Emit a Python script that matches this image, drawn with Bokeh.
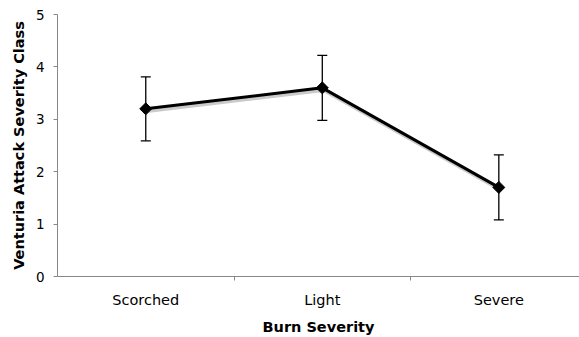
import math
from bokeh.plotting import figure
from bokeh.models import ColumnDataSource, FixedTicker, Range1d, Whisker, TeeHead
from bokeh.embed import file_html
from bokeh.resources import INLINE

categories = ["Scorched", "Light", "Severe"]
means = [3.2, 3.6, 1.7]
errors = [0.61, 0.62, 0.62]
y_ticks = [0, 1, 2, 3, 4, 5]

xpos = [i + 0.5 for i in range(len(categories))]
src = ColumnDataSource(dict(
    x=xpos, y=means,
    upper=[m + e for m, e in zip(means, errors)],
    lower=[m - e for m, e in zip(means, errors)],
    xs=[x + 0.008 for x in xpos], ys=[m - 0.04 for m in means],
))

FONT = "DejaVu Sans"
p = figure(width=579, height=337, output_backend="svg", toolbar_location=None,
           x_range=Range1d(0, 2.957), y_range=Range1d(0, 5),
           min_border_left=57, min_border_top=14, min_border_right=0, min_border_bottom=61)
p.outline_line_color = None
p.background_fill_color = "white"
p.border_fill_color = "white"

# grid: only top line
p.xgrid.visible = False
p.ygrid.ticker = FixedTicker(ticks=[5])
p.ygrid.grid_line_color = "#a6a6a6"
p.ygrid.grid_line_width = 1

# x axis
xa = p.xaxis[0]
xa.ticker = FixedTicker(ticks=xpos, minor_ticks=[1, 2])
xa.major_label_overrides = {x: c for x, c in zip(xpos, categories)}
xa.major_tick_out = 0
xa.major_tick_in = 0
xa.minor_tick_out = 4
xa.minor_tick_in = 0
xa.minor_tick_line_color = "#888888"
xa.axis_line_color = "#888888"
xa.major_label_text_font = FONT
xa.major_label_text_font_size = "14.5px"
xa.major_label_text_color = "black"
xa.major_label_standoff = 11
xa.axis_label = "Burn Severity"
xa.axis_label_text_font = FONT
xa.axis_label_text_font_style = "bold"
xa.axis_label_text_font_size = "14.5px"
xa.axis_label_text_color = "black"
xa.axis_label_standoff = 8

# y axis
ya = p.yaxis[0]
ya.ticker = FixedTicker(ticks=y_ticks)
ya.minor_tick_line_color = None
ya.major_tick_out = 4
ya.major_tick_in = 0
ya.major_tick_line_color = "#888888"
ya.axis_line_color = "#888888"
ya.major_label_text_font = FONT
ya.major_label_text_font_size = "13.5px"
ya.major_label_text_color = "black"
ya.major_label_standoff = 9
ya.axis_label = "Venturia Attack Severity Class"
ya.axis_label_text_font = FONT
ya.axis_label_text_font_style = "bold"
ya.axis_label_text_font_size = "14.5px"
ya.axis_label_text_color = "black"
ya.axis_label_standoff = 6

# shadow line
p.line("xs", "ys", source=src, line_color="#bdbdbd", line_width=4, line_alpha=0.8)
# error bars
w = Whisker(source=src, base="x", upper="upper", lower="lower",
            line_color="black", line_width=1.3,
            upper_head=TeeHead(size=10, line_color="black", line_width=1.3),
            lower_head=TeeHead(size=10, line_color="black", line_width=1.3))
p.add_layout(w)
# main line
p.line("x", "y", source=src, line_color="black", line_width=3)
p.scatter("x", "y", source=src, marker="square", angle=math.pi / 4, size=8.5,
          fill_color="black", line_color="black")

open("out.html", "w").write(file_html(p, INLINE))
